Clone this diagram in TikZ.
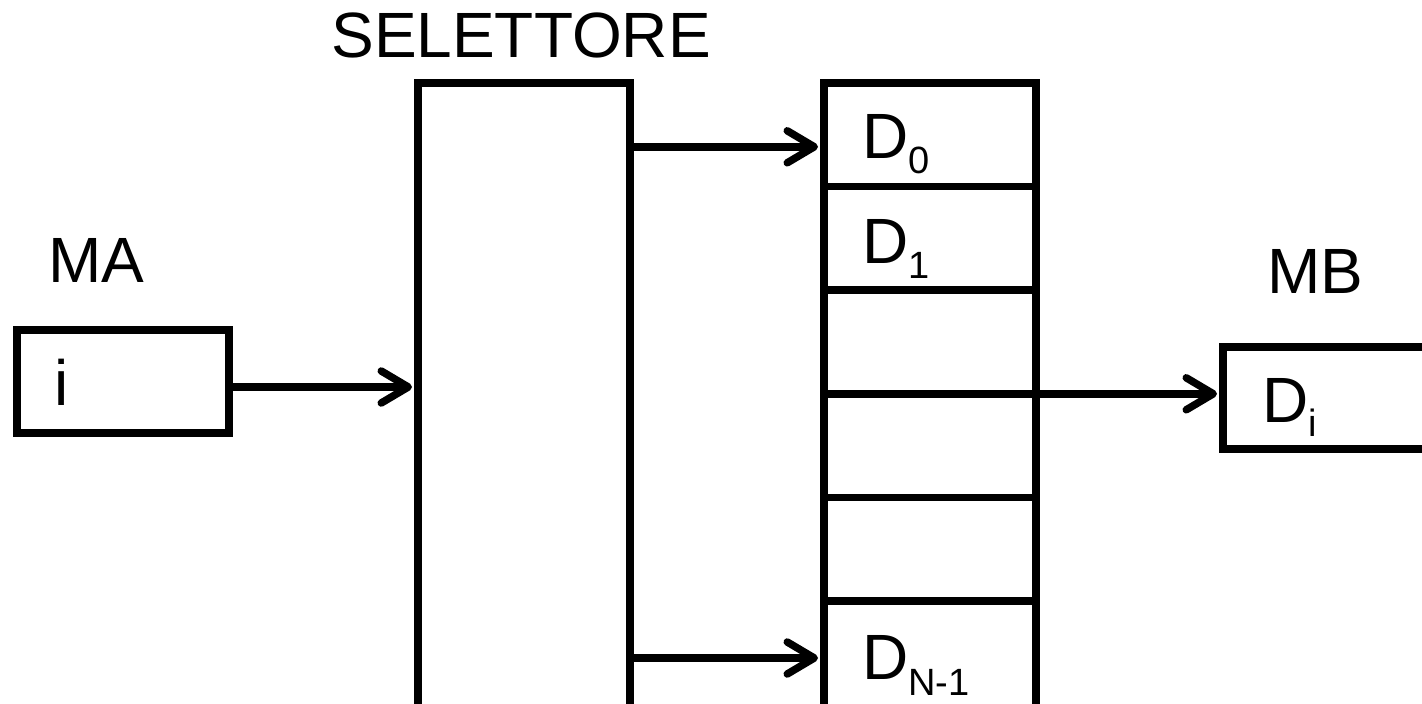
\documentclass[tikz,border=0pt]{standalone}
\usepackage{fontspec}
\setmainfont{Liberation Sans}
\usetikzlibrary{arrows.meta,calc}
\newcommand{\sub}[2][15pt]{\raisebox{-#1}{\fontsize{38}{40}\selectfont #2}}
\begin{document}
\begin{tikzpicture}[x=1pt,y=-1pt,
  box/.style={draw=black,line width=7.5pt,rectangle,inner sep=0pt,outer sep=0pt},
  cell/.style={box,minimum width=212pt,minimum height=103.6pt},
  lbl/.style={anchor=base west,inner sep=0pt,outer sep=0pt,font=\fontsize{64}{70}\selectfont},
  arr/.style={line width=7.5pt,-{Straight Barb[length=27pt,width=32pt,round]},shorten >=6pt}]
\useasboundingbox (0,0) rectangle (1422,704);
\clip (0,0) rectangle (1422,704);
% boxes
\node[box,minimum width=212pt,minimum height=103pt] (MA) at (123,381.5) {};
\node[box,minimum width=212pt,minimum height=660pt] (SEL) at (524,413) {};
\foreach \k/\y in {0/134.8,1/238.4,2/342,3/445.6,4/549.2}
  \node[cell] (C\k) at (930,\y) {};
\node[box,minimum width=212pt,minimum height=120pt] (C5) at (930,661) {};
\node[box,minimum width=300pt,minimum height=102pt] (MB) at (1373,398) {};
% labels
\node[lbl,anchor=base] (tSEL) at (521,57) {SELETTORE};
\node[lbl] (tMA) at (48,282) {MA};
\node[lbl] (tMB) at (1267,293) {MB};
\node[lbl] (ti) at (54,405) {i};
\node[lbl] (tD0) at (862,158) {D\sub{0}};
\node[lbl] (tD1) at (862,263) {D\sub{1}};
\node[lbl] (tDN) at (862,679) {D\sub[16pt]{N-1}};
\node[lbl] (tDi) at (1262,422) {D\sub[14pt]{i}};
% connectors
\draw[arr] ([yshift=-5.5pt]MA.east) -- ([yshift=-5.5pt]MA.east -| SEL.west);
\draw[arr] ([yshift=-12pt]C0.west -| SEL.east) -- ([yshift=-12pt]C0.west);
\draw[arr] ([yshift=3pt]C5.west -| SEL.east) -- ([yshift=3pt]C5.west);
\draw[arr] (C2.south east) -- (C2.south east -| MB.west);
\end{tikzpicture}
\end{document}
